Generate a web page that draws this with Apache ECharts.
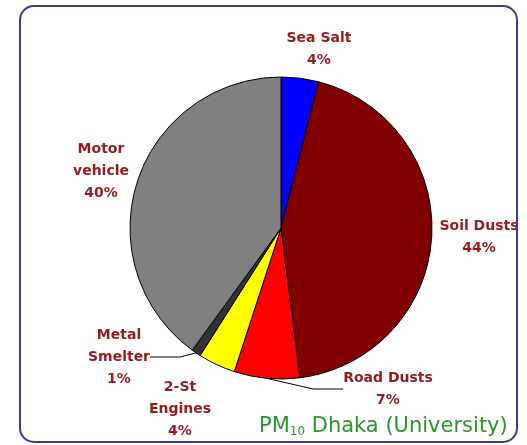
<!DOCTYPE html>
<html>
<head>
<meta charset="utf-8">
<script src="https://cdn.jsdelivr.net/npm/echarts@6/dist/echarts.min.js"></script>
<style>
  html, body { margin: 0; padding: 0; background: #fff; }
  #main { width: 527px; height: 445px; }
</style>
</head>
<body>
<div id="main"></div>
<script>
// source names and shares (%)
var sources = ['Sea Salt', 'Soil Dusts', 'Road Dusts', '2-St\nEngines', 'Metal\nSmelter', 'Motor\nvehicle'];
var shares = [4, 44, 7, 4, 1, 40];
var colors = ['#0000ff', '#800000', '#ff0000', '#ffff00', '#333333', '#808080'];
// which slices get a leader line
var withLine = [false, false, true, false, true, false];

// where each label sits (centre of the text block)
var labelPos = [[319, 49], [479, 237], [388, 389], [180, 409], [119, 357], [101, 171]];

var myChart = echarts.init(document.getElementById('main'));

var pieData = [];
for (let i = 0; i < sources.length; i++) {
  pieData.push({
    name: sources[i],
    value: shares[i],
    itemStyle: { color: colors[i] },
    labelLine: { show: withLine[i] }
  });
}

var option = {
  animation: false,
  title: {
    text: '{a|PM}{b|10}{a| Dhaka (University)}',
    left: 254,
    top: 410,
    textStyle: {
      rich: {
        a: { fontFamily: 'DejaVu Sans', fontWeight: 'normal', fontSize: 21, color: '#2a962a' },
        b: { fontFamily: 'DejaVu Sans', fontWeight: 'normal', fontSize: 12, color: '#2a962a', verticalAlign: 'bottom', padding: [11, 0, 0, 0] }
      }
    }
  },
  graphic: [{
    type: 'rect',
    shape: { x: 20, y: 6, width: 497, height: 436, r: 14 },
    style: { fill: 'none', stroke: '#3c3c8c', lineWidth: 2 },
    z: 10
  }],
  series: [{
    type: 'pie',
    center: [281, 228],
    radius: 151,
    startAngle: 90,
    clockwise: true,
    itemStyle: { borderColor: '#000', borderWidth: 1 },
    emphasis: { disabled: true },
    label: {
      show: true,
      formatter: function (p) { return p.name + '\n' + p.value + '%'; },
      fontFamily: 'DejaVu Sans',
      fontWeight: 'bold',
      fontSize: 14,
      lineHeight: 22,
      color: '#951c1c',
      align: 'center',
      overflow: 'none'
    },
    labelLine: { show: false, lineStyle: { color: '#000', width: 1 } },
    labelLayout: function (params) {
      var pos = labelPos[params.dataIndex];
      return {
        x: pos[0],
        y: pos[1],
        align: 'center',
        verticalAlign: 'middle'
      };
    },
    data: pieData
  }]
};

myChart.setOption(option);
</script>
</body>
</html>
